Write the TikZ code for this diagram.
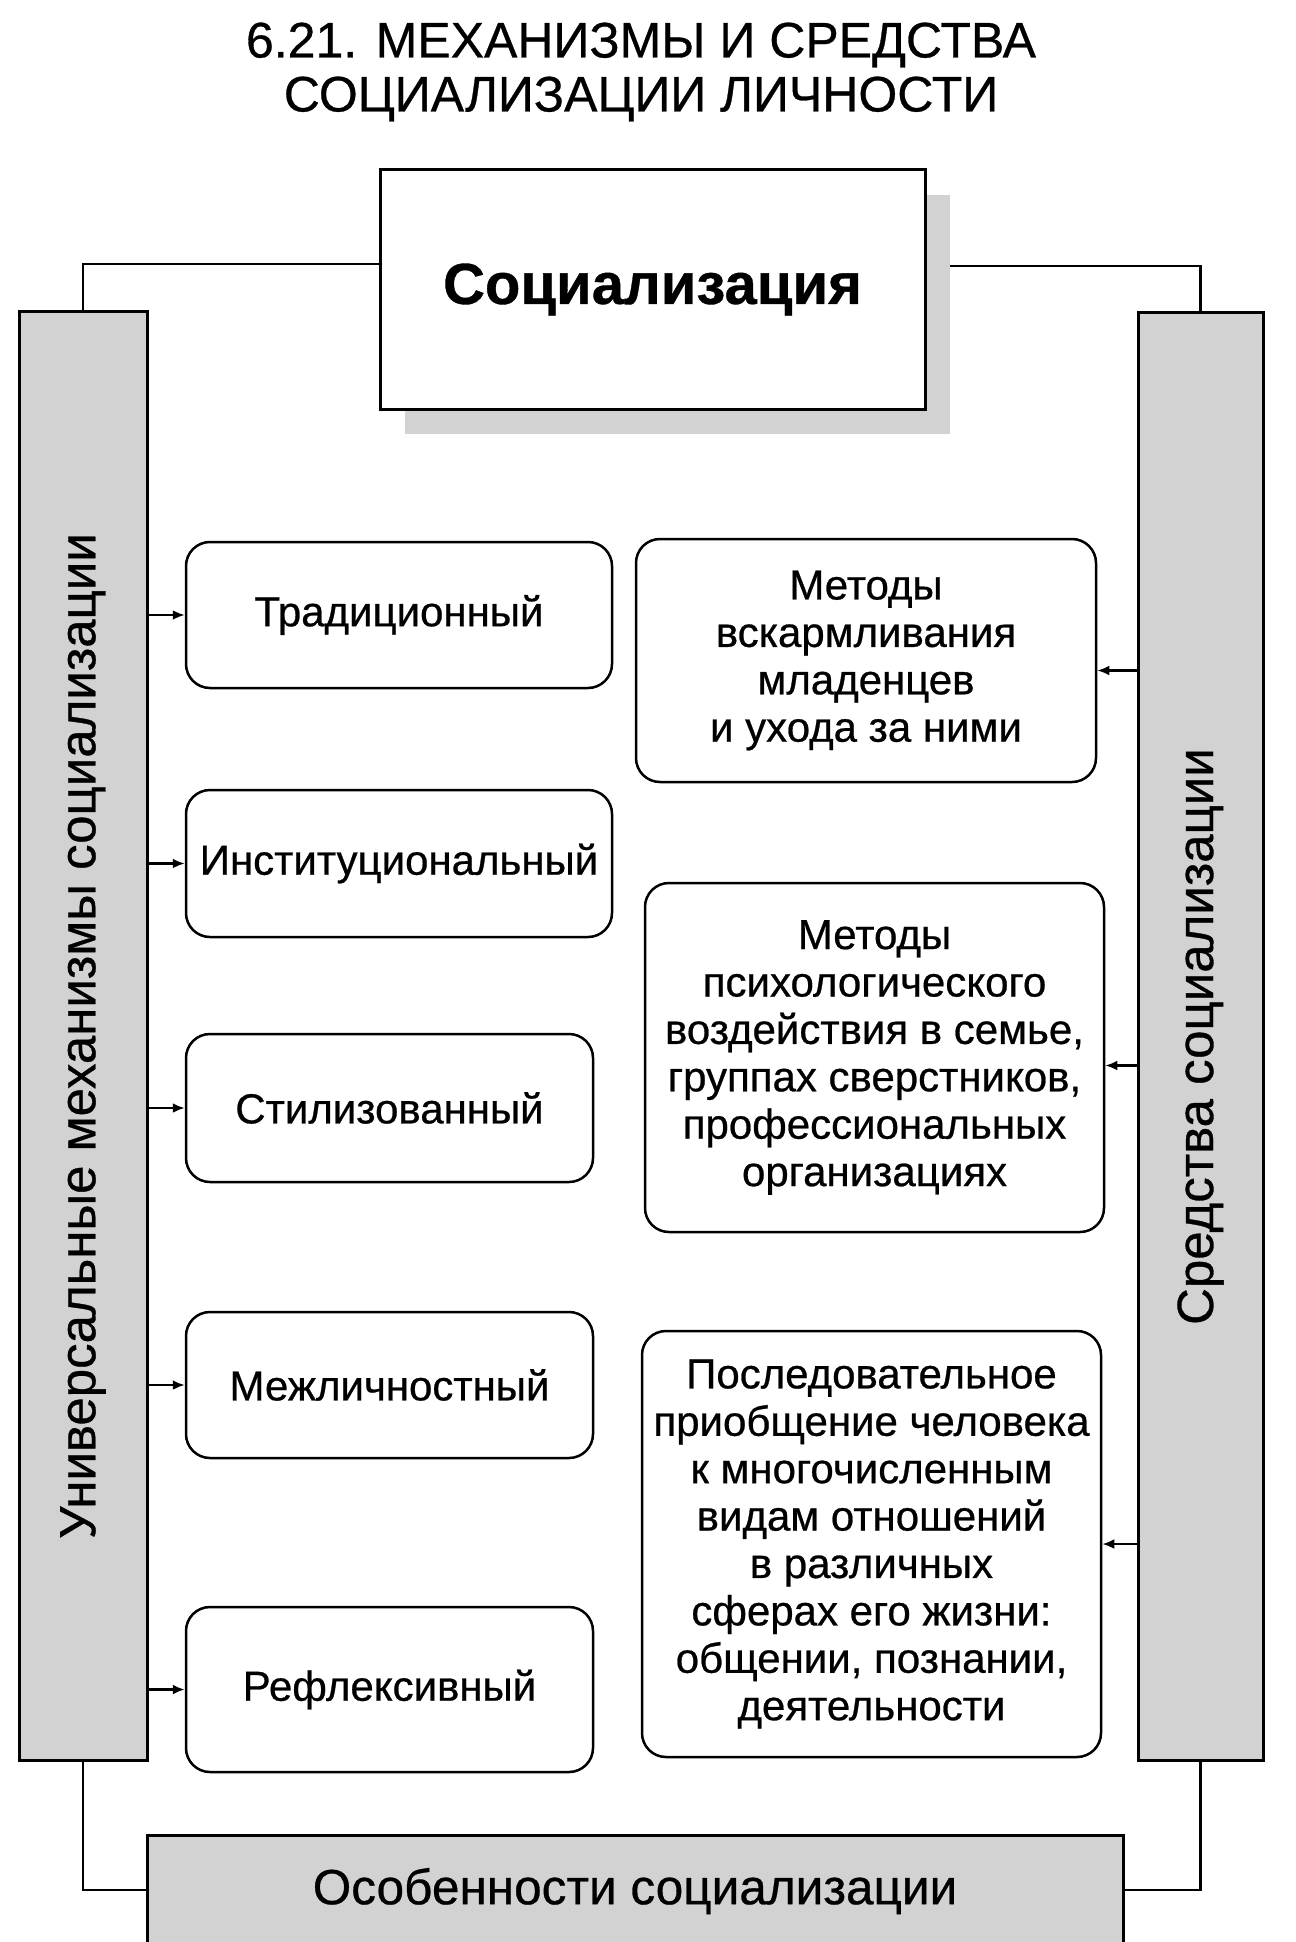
\documentclass[tikz,border=0pt]{standalone}
\usepackage{fontspec}
\setmainfont{Liberation Sans}[FakeBold=0.6]
\usetikzlibrary{arrows.meta,calc}
\begin{document}
\begin{tikzpicture}[x=1pt,y=-1pt,
  mbox/.style={draw, line width=2.5pt, rounded corners=24pt, align=center, inner sep=0pt,
    font=\fontsize{42}{47.4}\selectfont},
  barbox/.style={draw, line width=3pt, fill=gray!35, inner sep=0pt},
  conn/.style={line width=2.5pt},
  arr/.style={line width=2.5pt, -{Latex[length=12pt,width=10pt]}}]
\useasboundingbox (0,0) rectangle (1295,1942);
\clip (0,0) rectangle (1295,1942);
% title
\node[font=\fontsize{50}{54}\selectfont, align=center] (title) at (641,72)
  {6.21. МЕХАНИЗМЫ И СРЕДСТВА\\СОЦИАЛИЗАЦИИ ЛИЧНОСТИ};
% top box with shadow
\node[fill=gray!35, minimum width=545pt, minimum height=239pt, inner sep=0pt] (shadow) at (677.5,314.5) {};
\node[draw, fill=white, line width=3pt, minimum width=545pt, minimum height=239pt, inner sep=0pt,
  font=\bfseries\fontsize{58}{70}\selectfont] (top) at (652.5,289.5) {Социализация};
% side bars
\node[barbox, minimum width=128pt, minimum height=1448pt] (lbar) at (83,1036) {};
\node[rotate=90, font=\fontsize{51}{60}\selectfont] (ltext) at (83,1036) {Универсальные механизмы социализации};
\node[barbox, minimum width=125pt, minimum height=1447pt] (rbar) at (1200.5,1036.5) {};
\node[rotate=90, font=\fontsize{51}{60}\selectfont] (rtext) at (1200.5,1036.5) {Средства социализации};
% bottom bar
\node[barbox, minimum width=976pt, minimum height=112pt, font=\fontsize{49.5}{60}\selectfont] (bbar) at (635,1891) {Особенности социализации};
% connectors
\coordinate (cl) at (83,264);
\coordinate (cr) at (1200.5,266);
\coordinate (bl) at (83,1890);
\coordinate (br) at (1200.5,1890);
\draw[conn] (top.west |- cl) -- (cl) -- (lbar.north);
\draw[conn] (shadow.east |- cr) -- (cr) -- (rbar.north);
\draw[conn] (lbar.south) -- (bl) -- (bbar.west |- bl);
\draw[conn] (rbar.south) -- (br) -- (bbar.east |- br);
% left boxes
\node[mbox, minimum width=426pt, minimum height=146pt] (t1) at (399,615) {Традиционный};
\node[mbox, minimum width=426pt, minimum height=147pt] (t2) at (399,863.5) {Институциональный};
\node[mbox, minimum width=407pt, minimum height=148pt] (t3) at (389.5,1108) {Стилизованный};
\node[mbox, minimum width=407pt, minimum height=146pt] (t4) at (389.5,1385) {Межличностный};
\node[mbox, minimum width=407pt, minimum height=165pt] (t5) at (389.5,1689.5) {Рефлексивный};
\foreach \n in {t1,t2,t3,t4,t5}
  \draw[arr] (lbar.east |- \n.west) -- (\n.west);
% right boxes
\node[mbox, minimum width=460pt, minimum height=243pt] (r1) at (866,660.5)
  {Методы\\вскармливания\\младенцев\\и ухода за ними};
\node[mbox, minimum width=459pt, minimum height=349pt] (r2) at (874.5,1057.5)
  {Методы\\психологического\\воздействия в семье,\\группах сверстников,\\профессиональных\\организациях};
\node[mbox, minimum width=459pt, minimum height=426pt] (r3) at (871.5,1544)
  {Последовательное\\приобщение человека\\к многочисленным\\видам отношений\\в различных\\сферах его жизни:\\общении, познании,\\деятельности};
\draw[arr] ([yshift=-10pt]rbar.west |- r1.east) -- ([yshift=-10pt]r1.east);
\draw[arr] ([yshift=-8pt]rbar.west |- r2.east) -- ([yshift=-8pt]r2.east);
\draw[arr] (rbar.west |- r3.east) -- (r3.east);
\end{tikzpicture}
\end{document}
